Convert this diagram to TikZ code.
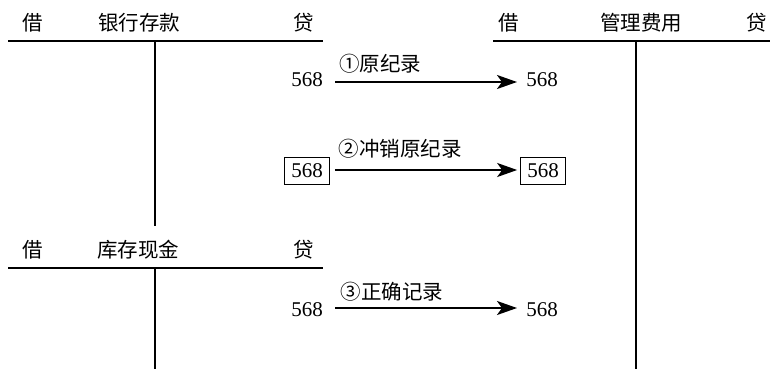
\documentclass[tikz,border=0pt]{standalone}
\usepackage{fontspec}
\setmainfont{Liberation Serif}
\newfontfamily\cjk{Noto Sans CJK SC}
\usetikzlibrary{arrows.meta}
\begin{document}
\begin{tikzpicture}[x=1pt,y=-1pt,
  lbl/.style={font=\cjk\fontsize{20.5}{22}\selectfont, inner sep=0pt},
  num/.style={font=\fontsize{21}{23}\selectfont, inner sep=2pt},
  boxnum/.style={num, draw, line width=1.2pt, inner xsep=6.5pt, inner ysep=6.5pt},
  tline/.style={line width=2pt},
  arr/.style={line width=2pt, -{Stealth[length=20pt,width=14pt,inset=5pt]}}]
\useasboundingbox (0,0) rectangle (770,369);
% top-left T account
\coordinate (a1l) at (8,41); \coordinate (a1r) at (323,41);
\coordinate (a1t) at (155,41); \coordinate (a1b) at (155,226);
\draw[tline] (a1l) -- (a1r); \draw[tline] (a1t) -- (a1b);
\node[lbl] (a1d) at (33,23) {借};
\node[lbl] (a1n) at (139,23) {银行存款};
\node[lbl] (a1c) at (304,23) {贷};
% top-right T account
\coordinate (a2l) at (493,41); \coordinate (a2r) at (770,41);
\coordinate (a2t) at (636,41); \coordinate (a2b) at (636,369);
\draw[tline] (a2l) -- (a2r); \draw[tline] (a2t) -- (a2b);
\node[lbl] (a2d) at (509,23) {借};
\node[lbl] (a2n) at (641,23) {管理费用};
\node[lbl] (a2c) at (757,23) {贷};
% bottom-left T account
\coordinate (a3l) at (8,268); \coordinate (a3r) at (323,268);
\coordinate (a3t) at (155,268); \coordinate (a3b) at (155,369);
\draw[tline] (a3l) -- (a3r); \draw[tline] (a3t) -- (a3b);
\node[lbl] (a3d) at (33,250) {借};
\node[lbl] (a3n) at (138,250) {库存现金};
\node[lbl] (a3c) at (304,250) {贷};
% row 1
\node[num] (n1a) at (307,80) {568};
\node[num] (n1b) at (542,80) {568};
\coordinate (s1) at (335,82); \coordinate (e1) at (517,82);
\draw[arr] (s1) -- (e1);
\node[lbl] (l1) at (380,64) {①原纪录};
% row 2
\node[boxnum] (n2a) at (307,171) {568};
\node[boxnum] (n2b) at (543,171) {568};
\draw[arr] (n2a.east |- 0,170) ++(5,0) -- ([xshift=-3pt]n2b.west |- 0,170);
\node[lbl] (l2) at (400,149) {②冲销原纪录};
% row 3
\node[num] (n3a) at (307,310) {568};
\node[num] (n3b) at (542,310) {568};
\coordinate (s3) at (335,308); \coordinate (e3) at (517,308);
\draw[arr] (s3) -- (e3);
\node[lbl] (l3) at (392,292) {③正确记录};
\end{tikzpicture}
\end{document}
